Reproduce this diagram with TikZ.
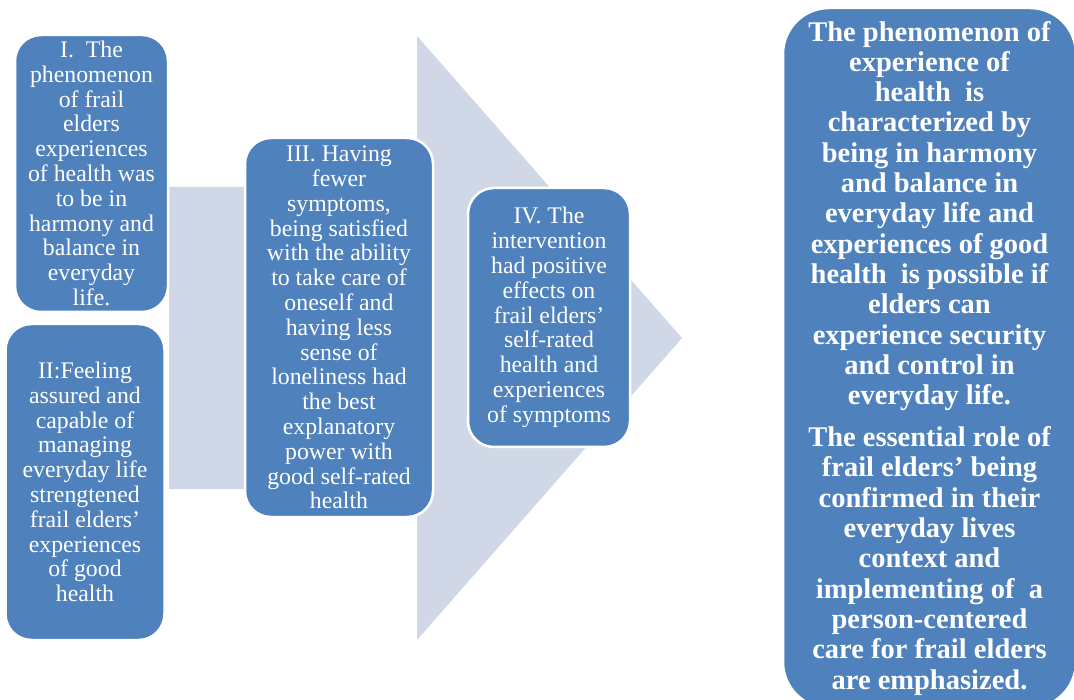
\documentclass[tikz,border=0pt]{standalone}
\usepackage{fontspec}
\setmainfont{Liberation Serif}
\definecolor{boxblue}{HTML}{4F81BD}
\definecolor{arrowgrey}{HTML}{D0D8E8}
\tikzset{
  stage/.style={draw=white, line width=2.5pt, fill=boxblue, rounded corners=26pt,
    text=white, align=center, inner sep=0pt,
    font=\fontsize{23.8}{24.8}\selectfont},
  summary/.style={stage, rounded corners=46pt,
    font=\bfseries\fontsize{28.5}{30.3}\selectfont},
}

\begin{document}
\begin{tikzpicture}[x=1pt, y=-1pt]
    \useasboundingbox (0,0) rectangle (1074,700);

    % The big arrow behind the stages
    \fill[arrowgrey] (169,187) -- (417,187) -- (417,36) -- (682,338)
          -- (417,640) -- (417,489) -- (169,489) -- cycle;

    % Stages
    \node[stage, minimum width=153pt, minimum height=277pt] (one) at (91.5,173.5)
          {I.\ \ The\\phenomenon\\of frail\\elders\\experiences\\of health was\\to be in\\harmony and\\balance in\\everyday\\life.};
    \node[stage, minimum width=159pt, minimum height=316pt] (two) at (85,482)
          {II:Feeling\\assured and\\capable of\\managing\\everyday life\\strengtened\\frail elders’\\experiences\\of good\\health};
    \node[stage, minimum width=188pt, minimum height=379pt] (three) at (339,327.5)
          {III. Having\\fewer\\symptoms,\\being satisfied\\with the ability\\to take care of\\oneself and\\having less\\sense of\\loneliness had\\the best\\explanatory\\power with\\good self-rated\\health};
    \node[stage, minimum width=162pt, minimum height=259pt] (four) at (549,317.5)
          {IV. The\\intervention\\had positive\\effects on\\frail elders’\\self-rated\\health and\\experiences\\of symptoms};

    % Result
    \node[summary, minimum width=293pt, minimum height=700pt] (result) at (929.5,358)
          {The phenomenon of\\experience of\\health\ \ is\\characterized by\\being in harmony\\and balance in\\everyday life and\\experiences of good\\health\ \ is possible if\\elders can\\experience security\\and control in\\everyday life.\\[11.7pt]
           The essential role of\\frail elders’ being\\confirmed in their\\everyday lives\\context and\\implementing of\ \ a\\person-centered\\care for frail elders\\are emphasized.};
\end{tikzpicture}
\end{document}
